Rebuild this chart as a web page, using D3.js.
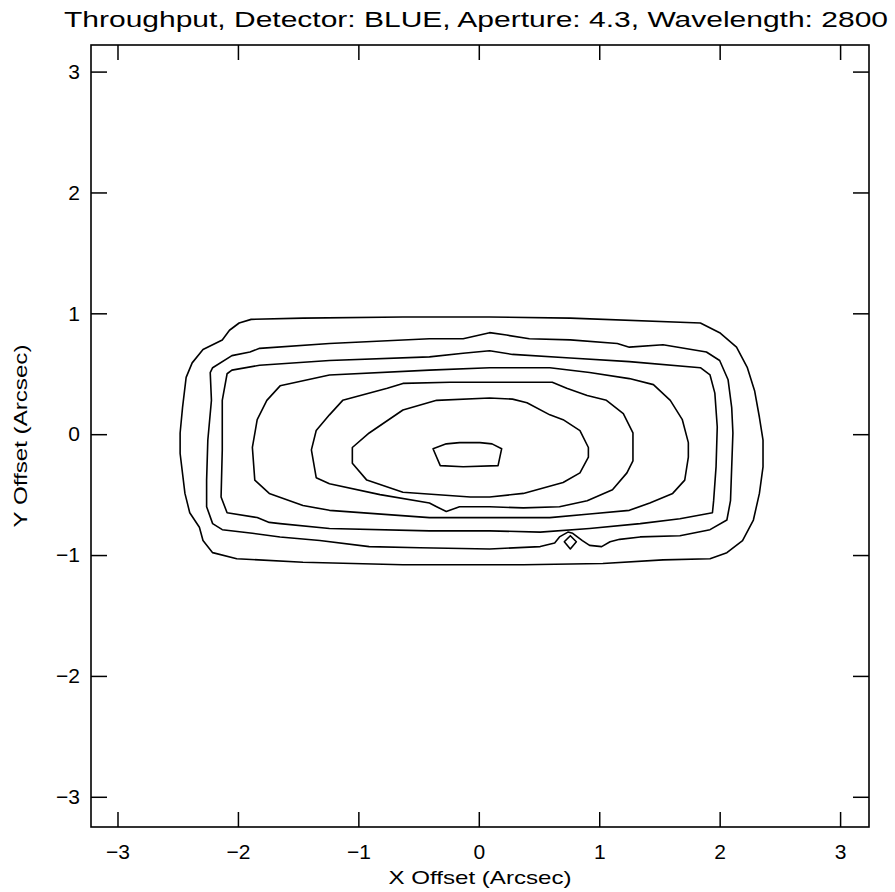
<!DOCTYPE html>
<html>
<head>
<meta charset="utf-8">
<script src="https://cdn.jsdelivr.net/npm/d3@7"></script>
<style>
  body { margin: 0; background: #fff; }
  text { font-family: "Liberation Sans", Arial, sans-serif; fill: #000; }
</style>
</head>
<body>
<svg id="chart" width="895" height="892"></svg>
<script>
// ---- labels and axes ----
const titleText = "Throughput, Detector: BLUE, Aperture: 4.3, Wavelength: 2800";
const xLabel = "X Offset (Arcsec)";
const yLabel = "Y Offset (Arcsec)";
const xTicks = [-3, -2, -1, 0, 1, 2, 3];
const yTicks = [-3, -2, -1, 0, 1, 2, 3];
const xDomain = [-3.22, 3.24];
const yDomain = [-3.25, 3.22];

// ---- throughput contour levels, [x, y] in arcsec, outermost first ----
const level1 = [[-1.99,0.92],[-1.89,0.95],[-1.46,0.96],[-0.63,0.97],[0.09,0.97],[0.76,0.96],[1.84,0.92],[2.00,0.84],[2.14,0.72],[2.23,0.55],[2.29,0.36],[2.33,0.14],[2.36,-0.05],[2.36,-0.27],[2.33,-0.49],[2.28,-0.71],[2.19,-0.88],[2.06,-0.98],[1.92,-1.03],[1.53,-1.04],[1.03,-1.07],[0.37,-1.08],[0.09,-1.08],[-0.63,-1.08],[-1.46,-1.06],[-2.01,-1.03],[-2.21,-0.98],[-2.29,-0.88],[-2.32,-0.77],[-2.40,-0.65],[-2.44,-0.49],[-2.48,-0.16],[-2.48,0.01],[-2.46,0.22],[-2.43,0.47],[-2.38,0.59],[-2.29,0.70],[-2.13,0.78],[-2.07,0.86]];

const level2 = [[-2.21,0.55],[-2.05,0.65],[-1.90,0.68],[-1.82,0.71],[-1.24,0.75],[-0.41,0.79],[-0.13,0.79],[0.09,0.84],[0.23,0.82],[0.42,0.79],[0.76,0.78],[1.15,0.75],[1.25,0.72],[1.53,0.74],[1.89,0.68],[2.00,0.61],[2.07,0.45],[2.10,0.22],[2.11,0.01],[2.10,-0.27],[2.09,-0.55],[2.06,-0.71],[1.92,-0.79],[1.67,-0.84],[1.34,-0.85],[1.17,-0.87],[1.09,-0.89],[1.02,-0.93],[0.92,-0.92],[0.86,-0.88],[0.78,-0.82],[0.74,-0.81],[0.67,-0.85],[0.63,-0.90],[0.51,-0.93],[0.09,-0.95],[-0.49,-0.94],[-0.91,-0.93],[-1.32,-0.88],[-1.65,-0.85],[-1.88,-0.82],[-2.13,-0.79],[-2.21,-0.74],[-2.26,-0.60],[-2.26,-0.38],[-2.25,-0.05],[-2.22,0.28],[-2.23,0.51]];

const level2Island = [[0.76,-0.84],[0.81,-0.89],[0.76,-0.95],[0.71,-0.89]];

const level3 = [[-2.05,0.53],[-1.82,0.57],[-1.24,0.61],[-0.41,0.64],[-0.13,0.67],[0.09,0.69],[0.28,0.66],[0.76,0.63],[1.25,0.60],[1.84,0.55],[1.92,0.49],[1.96,0.34],[1.98,0.06],[1.97,-0.27],[1.95,-0.55],[1.94,-0.65],[1.67,-0.70],[1.34,-0.74],[0.92,-0.78],[0.51,-0.81],[0.09,-0.80],[-0.41,-0.80],[-1.24,-0.78],[-1.65,-0.74],[-1.74,-0.73],[-1.84,-0.69],[-2.09,-0.65],[-2.14,-0.52],[-2.13,-0.13],[-2.13,0.28],[-2.09,0.50]];

const level4 = [[-1.88,-0.11],[-1.84,0.12],[-1.76,0.28],[-1.65,0.40],[-1.24,0.49],[-0.41,0.53],[0.09,0.55],[0.59,0.55],[0.92,0.51],[1.25,0.46],[1.45,0.41],[1.59,0.28],[1.69,0.12],[1.74,-0.07],[1.74,-0.19],[1.71,-0.38],[1.61,-0.49],[1.42,-0.57],[1.25,-0.63],[0.92,-0.66],[0.59,-0.69],[0.09,-0.69],[-0.41,-0.69],[-1.24,-0.63],[-1.46,-0.59],[-1.74,-0.49],[-1.86,-0.38]];

const level5 = [[-1.39,-0.13],[-1.35,0.03],[-1.24,0.16],[-1.13,0.28],[-0.76,0.38],[-0.63,0.42],[-0.24,0.43],[0.09,0.43],[0.61,0.43],[0.73,0.38],[0.90,0.32],[1.06,0.28],[1.20,0.17],[1.28,0.01],[1.28,-0.22],[1.23,-0.32],[1.11,-0.46],[0.90,-0.55],[0.67,-0.60],[0.37,-0.61],[0.09,-0.60],[-0.16,-0.60],[-0.27,-0.64],[-0.35,-0.60],[-0.41,-0.57],[-0.82,-0.50],[-1.24,-0.41],[-1.35,-0.36]];

const level6 = [[-1.05,-0.11],[-0.91,0.01],[-0.63,0.20],[-0.35,0.28],[0.09,0.30],[0.28,0.29],[0.40,0.26],[0.59,0.16],[0.70,0.12],[0.84,0.03],[0.91,-0.11],[0.91,-0.19],[0.84,-0.32],[0.70,-0.40],[0.37,-0.49],[0.09,-0.52],[-0.07,-0.52],[-0.63,-0.48],[-0.93,-0.38],[-1.05,-0.24]];

const level7 = [[-0.38,-0.12],[-0.27,-0.08],[-0.16,-0.07],[0.01,-0.07],[0.11,-0.08],[0.19,-0.12],[0.16,-0.26],[-0.13,-0.27],[-0.32,-0.26]];

const contourRings = [level1, level2, level2Island, level3, level4, level5, level6, level7];

// ---- layout ----
const svg = d3.select("#chart");
const plot = { left: 91, right: 869, top: 45, bottom: 827 };

const x = d3.scaleLinear().domain(xDomain).range([plot.left, plot.right]);
const y = d3.scaleLinear().domain(yDomain).range([plot.bottom, plot.top]);

const fmt = d => (d < 0 ? "\u2212" + Math.abs(d) : String(d));
const tickLen = 15;

// frame
svg.append("rect")
  .attr("x", plot.left).attr("y", plot.top)
  .attr("width", plot.right - plot.left).attr("height", plot.bottom - plot.top)
  .attr("fill", "none").attr("stroke", "#000").attr("stroke-width", 1.6);

// axes: ticks point inward on all four sides, labels on bottom and left only
function styleAxis(g) {
  g.select(".domain").remove();
  g.selectAll(".tick line").attr("stroke", "#000").attr("stroke-width", 1.5);
  g.selectAll(".tick text").style("font-size", "21px").attr("fill", "#000");
}

svg.append("g")
  .attr("transform", `translate(0,${plot.bottom})`)
  .call(d3.axisBottom(x).tickValues(xTicks).tickFormat(fmt).tickSize(-tickLen).tickPadding(17))
  .call(styleAxis);

svg.append("g")
  .attr("transform", `translate(0,${plot.top})`)
  .call(d3.axisTop(x).tickValues(xTicks).tickFormat("").tickSize(-tickLen))
  .call(styleAxis);

svg.append("g")
  .attr("transform", `translate(${plot.left},0)`)
  .call(d3.axisLeft(y).tickValues(yTicks).tickFormat(fmt).tickSize(-16).tickPadding(11))
  .call(styleAxis);

svg.append("g")
  .attr("transform", `translate(${plot.right},0)`)
  .call(d3.axisRight(y).tickValues(yTicks).tickFormat("").tickSize(-16))
  .call(styleAxis);

svg.selectAll("g text").attr("font-family", null);

// contour lines
const ring = d3.line()
  .x(d => x(d[0]))
  .y(d => y(d[1]))
  .curve(d3.curveLinearClosed);

svg.append("g")
  .selectAll("path")
  .data(contourRings)
  .join("path")
  .attr("d", ring)
  .attr("fill", "none")
  .attr("stroke", "#000")
  .attr("stroke-width", 1.6)
  .attr("stroke-linejoin", "round");

// title and axis titles
svg.append("text")
  .attr("x", 476).attr("y", 27)
  .attr("text-anchor", "middle")
  .attr("textLength", 824).attr("lengthAdjust", "spacingAndGlyphs")
  .style("font-size", "22px")
  .text(titleText);

svg.append("text")
  .attr("x", (plot.left + plot.right) / 2).attr("y", 884)
  .attr("text-anchor", "middle")
  .attr("textLength", 183).attr("lengthAdjust", "spacingAndGlyphs")
  .style("font-size", "19px")
  .text(xLabel);

svg.append("text")
  .attr("transform", `translate(27,${(plot.top + plot.bottom) / 2}) rotate(-90)`)
  .attr("text-anchor", "middle")
  .attr("textLength", 183).attr("lengthAdjust", "spacingAndGlyphs")
  .style("font-size", "19px")
  .text(yLabel);
</script>
</body>
</html>
